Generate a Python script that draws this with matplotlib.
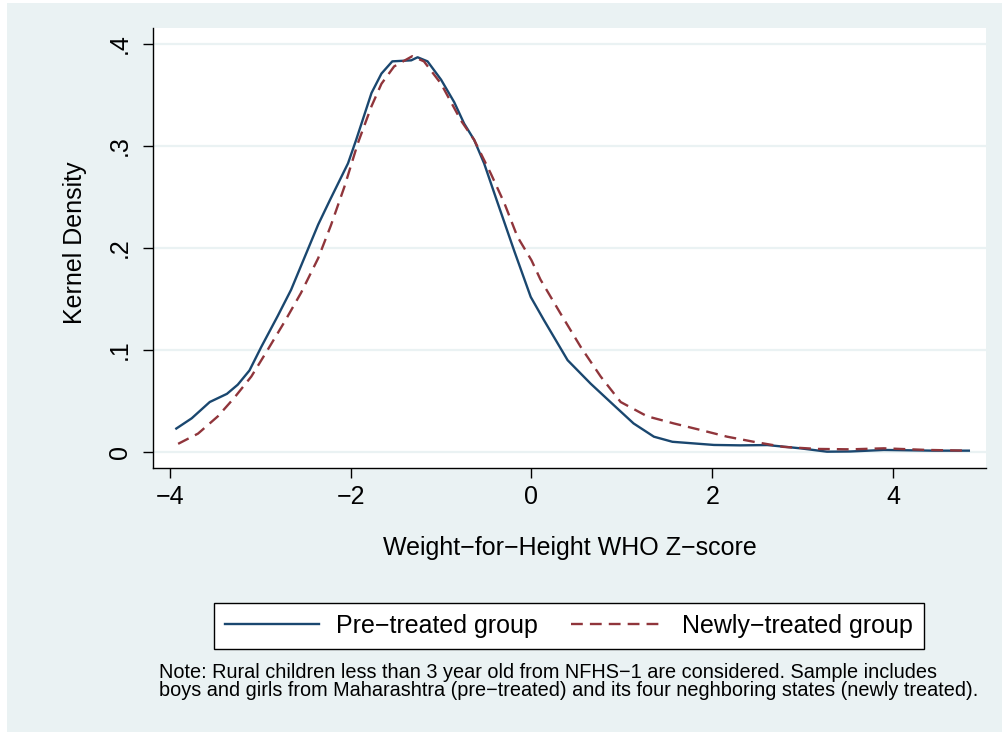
import matplotlib
matplotlib.use('Agg')
import matplotlib.pyplot as plt
from matplotlib.patches import Rectangle
from matplotlib.lines import Line2D

plt.rcParams['font.family'] = ['Liberation Sans', 'DejaVu Sans']

# Kernel density curves
pre_x = [-3.93, -3.76, -3.56, -3.37, -3.25, -3.12, -2.99, -2.81, -2.66, -2.51,
         -2.36, -2.23, -2.03, -1.94, -1.77, -1.66, -1.54, -1.33, -1.26, -1.15,
         -1.00, -0.855, -0.745, -0.634, -0.524, -0.385, -0.19, -0.008, 0.14, 0.40,
         0.655, 0.91, 1.13, 1.355, 1.56, 2.02, 2.31, 2.61, 2.975, 3.27,
         3.53, 3.90, 4.45, 4.84]
pre_y = [0.023, 0.033, 0.049, 0.057, 0.066, 0.080, 0.103, 0.133, 0.159, 0.191,
         0.223, 0.247, 0.283, 0.306, 0.352, 0.371, 0.383, 0.384, 0.387, 0.383,
         0.365, 0.343, 0.322, 0.306, 0.283, 0.247, 0.197, 0.152, 0.129, 0.090,
         0.067, 0.046, 0.028, 0.015, 0.010, 0.0069, 0.0065, 0.0068, 0.0036, 0.0003,
         0.0005, 0.002, 0.0013, 0.0013]

new_x = [-3.91, -3.69, -3.47, -3.29, -3.10, -2.92, -2.73, -2.55, -2.36, -2.22,
         -2.07, -1.92, -1.77, -1.66, -1.52, -1.32, -1.19, -1.00, -0.78, -0.634,
         -0.45, -0.30, -0.155, 0.0, 0.10, 0.32, 0.545, 0.766, 0.987, 1.28,
         1.575, 1.87, 2.165, 2.46, 2.79, 3.16, 3.53, 3.90, 4.38, 4.84]
new_y = [0.008, 0.018, 0.035, 0.053, 0.074, 0.100, 0.128, 0.156, 0.190, 0.222,
         0.260, 0.303, 0.339, 0.361, 0.378, 0.388, 0.383, 0.361, 0.325, 0.306,
         0.273, 0.244, 0.211, 0.188, 0.169, 0.136, 0.103, 0.074, 0.049, 0.035,
         0.028, 0.0216, 0.015, 0.010, 0.005, 0.003, 0.0026, 0.0036, 0.002, 0.0013]

x_ticks = [-4, -2, 0, 2, 4]
y_ticks = [0, 0.1, 0.2, 0.3, 0.4]
y_tick_labels = ['0', '.1', '.2', '.3', '.4']
series_labels = ['Pre\u2212treated group', 'Newly\u2212treated group']
note = ('Note: Rural children less than 3 year old from NFHS\u22121 are considered. Sample includes\n'
        'boys and girls from Maharashtra (pre\u2212treated) and its four neghboring states (newly treated).')

W, H = 1003, 732
BG = '#EAF2F3'
BLUE = '#1A476F'
RED = '#90353B'
FS = 18
LW = 1.7
DASH = (0, (5, 3))

fig = plt.figure(figsize=(W / 100, H / 100), dpi=100, facecolor='white')
# graph region (leaves thin white strip at top/left like the screenshot)
fig.patches.append(Rectangle((7 / W, 0), 1 - 7 / W, 1 - 3 / H, transform=fig.transFigure,
                             facecolor=BG, edgecolor='none', zorder=-10))

ax = fig.add_axes([153 / W, 1 - 468 / H, (986 - 153) / W, (468 - 28) / H])
ax.set_facecolor('white')

ax.plot(pre_x, pre_y, color=BLUE, lw=LW, solid_joinstyle='round')
ax.plot(new_x, new_y, color=RED, lw=LW, linestyle=DASH)

ax.set_xlim(-4.188, 5.03)
ax.set_ylim(-0.0157, 0.4157)
ax.set_xticks(x_ticks)
ax.set_yticks(y_ticks)
ax.set_yticklabels(y_tick_labels)
ax.grid(axis='y', color=BG, lw=1.6)
ax.set_axisbelow(True)

for s in ['top', 'right']:
    ax.spines[s].set_visible(False)
for s in ['left', 'bottom']:
    ax.spines[s].set_linewidth(1.0)

ax.tick_params(axis='both', direction='out', length=7, width=1.0, labelsize=FS)
ax.tick_params(axis='x', pad=5)
ax.tick_params(axis='y', pad=8)
for lab in ax.get_yticklabels():
    lab.set_rotation(90)
    lab.set_va('center')

ax.set_xlabel('Weight\u2212for\u2212Height WHO Z\u2212score', fontsize=FS)
ax.xaxis.set_label_coords(0.5, -(548 - 468) / 440)
ax.xaxis.label.set_va('center')
ax.set_ylabel('Kernel Density', fontsize=FS)
ax.yaxis.set_label_coords(-(153 - 75) / 833, (468 - 243) / 440)
ax.yaxis.label.set_va('center')

handles = [Line2D([], [], color=BLUE, lw=LW),
           Line2D([], [], color=RED, lw=LW, linestyle=DASH)]
leg = fig.legend(handles, series_labels, loc='center', ncol=2,
                 bbox_to_anchor=(569 / W, 1 - 626 / H), fontsize=FS,
                 frameon=True, fancybox=False, edgecolor='black', framealpha=1,
                 handlelength=3.75, handletextpad=0.68, columnspacing=1.36,
                 borderpad=0.45, borderaxespad=0)
leg.get_frame().set_linewidth(1.0)

fig.text(159 / W, 1 - 663 / H, note, ha='left', va='top', fontsize=14.3, linespacing=0.93)

fig.savefig('out.png', dpi=100, facecolor='white')
